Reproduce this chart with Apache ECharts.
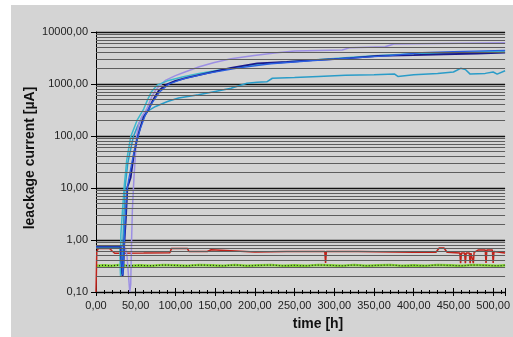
<!DOCTYPE html>
<html>
<head>
<meta charset="utf-8">
<script src="https://cdn.jsdelivr.net/npm/echarts@6/dist/echarts.min.js"></script>
<style>
  html, body {margin: 0; padding: 0; background: #fff;}
  #chart {width: 513px; height: 337px;}
</style>
</head>
<body>
<div id="chart"></div>
<script>
// time [h] / leakage current [uA] pairs
const lavender = [[0, 0.7], [37, 0.7], [39, 0.5], [41, 0.2], [42.5, 0.1], [43.7, 0.14], [44.8, 1], [45.8, 3.8],
  [47.8, 16], [49.5, 40], [51, 97], [54, 175], [58, 240], [64, 330], [70, 560], [75, 760], [80, 930], [88, 1190],
  [100, 1450], [112, 1700], [130, 2150], [149, 2600], [170, 3050], [199, 3550], [225, 3950], [250, 4300],
  [310, 4500], [320, 5000], [364, 5200], [375, 5900], [430, 6000], [515, 6200]];
const navy = [[0, 0.75], [31, 0.75], [32, 0.4], [33.4, 0.2], [34.5, 0.3], [35.5, 0.8], [37.5, 2.4], [39.6, 10.6],
  [41, 12], [43.7, 16], [47.8, 46], [52, 90], [56, 150], [60, 230], [66, 320], [72, 500], [79, 750], [88, 960],
  [100, 1150], [115, 1320], [129, 1480], [150, 1750], [170, 2040], [203, 2500], [240, 2650], [273, 2870],
  [300, 3000], [320, 3150], [355, 3480], [400, 3600], [438, 3730], [480, 3850], [515, 4000]];
const blue = [[0, 0.77], [31.5, 0.77], [32.5, 0.35], [33.8, 0.21], [35, 0.5], [36.5, 2], [38.5, 8], [41, 14],
  [45, 30], [50, 70], [56, 140], [62, 250], [70, 420], [80, 700], [92, 1000], [110, 1250], [140, 1600],
  [180, 2050], [220, 2450], [270, 2800], [320, 3150], [370, 3500], [410, 4000], [450, 4200], [515, 4450]];
const teal = [[0, 0.72], [30, 0.72], [30.5, 0.3], [30.9, 0.2], [31.3, 1.27], [33.4, 3.8], [35.5, 10.6],
  [38.7, 34.5], [43.7, 97], [52, 205], [60, 330], [65, 500], [70, 720], [77, 950], [90, 1150], [110, 1380],
  [130, 1600], [150, 1800], [200, 2350], [250, 2750], [300, 3100], [350, 3500], [400, 3800], [450, 4000],
  [515, 4300]];
const cyan = [[0, 0.7], [31, 0.7], [32, 0.3], [32.5, 0.22], [33.5, 0.6], [36.5, 10], [40, 30], [47, 97],
  [52, 150], [58, 230], [65, 300], [75, 370], [90, 460], [104, 540], [129, 620], [150, 720], [170, 830],
  [190, 1030], [203, 1080], [215, 1100], [222, 1290], [250, 1330], [280, 1400], [314, 1470], [350, 1500],
  [376, 1550], [380, 1400], [400, 1500], [430, 1600], [450, 1700], [459, 2000], [465, 1900], [471, 1550],
  [490, 1600], [500, 1700], [505, 1550], [515, 1800]];
const red = [[0, 0.1], [0.5, 0.1], [1, 0.6], [3, 0.69], [17, 0.69], [20, 0.62], [23.5, 0.555], [60, 0.56],
  [93, 0.57], [95, 0.69], [115, 0.69], [117, 0.6], [140, 0.6], [145, 0.65], [147, 0.6], [200, 0.59],
  [240, 0.6], [288, 0.6], [289, 0.36], [290, 0.6], [330, 0.6], [400, 0.58], [428, 0.58], [432, 0.7],
  [438, 0.7], [442, 0.58], [458, 0.56], [459, 0.36], [460, 0.56], [464, 0.56], [465, 0.36], [466, 0.56],
  [470, 0.56], [471, 0.36], [472, 0.56], [474, 0.56], [475, 0.36], [476, 0.58], [481, 0.64], [490, 0.64],
  [491, 0.36], [492, 0.64], [499, 0.64], [500, 0.36], [501, 0.6], [515, 0.56]];
const green = [[0, 0.32], [10, 0.325], [20, 0.32], [30, 0.33], [40, 0.32], [55, 0.325], [70, 0.32], [85, 0.33],
  [100, 0.325], [115, 0.32], [130, 0.33], [145, 0.325], [160, 0.32], [175, 0.33], [190, 0.32], [205, 0.325],
  [220, 0.33], [235, 0.32], [250, 0.325], [265, 0.32], [280, 0.33], [295, 0.325], [310, 0.32], [325, 0.33],
  [340, 0.32], [355, 0.325], [370, 0.33], [385, 0.32], [400, 0.325], [415, 0.32], [430, 0.33], [445, 0.325],
  [460, 0.32], [475, 0.33], [490, 0.325], [505, 0.32], [515, 0.325]];

const decades = [0.1, 1, 10, 100, 1000];
const minorSteps = [2, 3, 4, 5, 6, 7, 8, 9];

const font = 'Liberation Sans, Arial, sans-serif';
const comma = v => v.toFixed(2).replace('.', ',');

const minorGrid = [];
decades.forEach(d => minorSteps.forEach(m => minorGrid.push({yAxis: m * d})));

const line = (data, color, width) => ({
  type: 'line',
  data: data,
  symbol: 'none',
  lineStyle: {color: color, width: width || 1.5},
  itemStyle: {color: color},
  z: 3,
  animation: false
});

const chart = echarts.init(document.getElementById('chart'));
chart.setOption({
  backgroundColor: '#fff',
  animation: false,
  graphic: [
    {type: 'rect', shape: {x: 11, y: 5, width: 502, height: 332}, style: {fill: '#d4d4d4'}, z: -10, silent: true},
    {type: 'text', x: 30, y: 158, rotation: Math.PI / 2,
      style: {text: 'leackage current [µA]', font: 'bold 14px ' + font, fill: '#111', align: 'center', verticalAlign: 'middle'}},
    {type: 'text', x: 318, y: 324,
      style: {text: 'time [h]', font: 'bold 14px ' + font, fill: '#111', align: 'center', verticalAlign: 'middle'}}
  ],
  grid: {left: 96, right: 0, top: 32, bottom: 45},
  xAxis: [{
    type: 'value', min: 0, max: 515, interval: 50,
    axisLine: {lineStyle: {color: '#000', width: 1}},
    axisTick: {length: 4, lineStyle: {color: '#000'}},
    minorTick: {show: true, splitNumber: 5, length: 2, lineStyle: {color: '#000'}},
    axisLabel: {margin: 8, color: '#222', fontSize: 11, fontFamily: font,
      formatter: v => (v % 50 === 0 ? comma(v) : '')},
    splitLine: {show: false}
  }, {
    type: 'value', min: 0, max: 515, interval: 50, position: 'bottom',
    axisLine: {show: false},
    axisTick: {inside: true, length: 4, lineStyle: {color: '#000'}},
    minorTick: {show: true, splitNumber: 5, length: 2, lineStyle: {color: '#000'}},
    axisLabel: {show: false},
    splitLine: {show: false}
  }],
  yAxis: {
    type: 'log', logBase: 10, min: 0.1, max: 10000, splitNumber: 5,
    axisLine: {show: true, lineStyle: {color: '#000', width: 1}},
    axisTick: {show: true, length: 5, lineStyle: {color: '#000'}},
    axisLabel: {margin: 8, color: '#222', fontSize: 11, fontFamily: font, formatter: v => comma(v)},
    splitLine: {show: true, lineStyle: {color: '#111', width: 1.4}}
  },
  series: [
    {
      type: 'line', data: [], z: 1, silent: true,
      markLine: {
        silent: true, symbol: ['none', 'none'], label: {show: false}, animation: false,
        lineStyle: {color: '#5e5e5e', width: 1, type: 'solid'},
        emphasis: {disabled: true},
        data: minorGrid
      }
    },
    line(green, '#86d63a', 2.6),
    Object.assign(line(green, '#1e2a14', 1), {lineStyle: {color: '#1e2a14', width: 1.2, type: [1, 2]}}),
    line(red, '#c0221a', 1.5),
    line(cyan, '#2a9cc8', 1.5),
    line(lavender, '#9c8fe4', 1.5),
    line(teal, '#3cb8cc', 1.5),
    line(navy, '#1a1a8c', 1.8),
    line(blue, '#2a5ee0', 1.3)
  ]
});
</script>
</body>
</html>
